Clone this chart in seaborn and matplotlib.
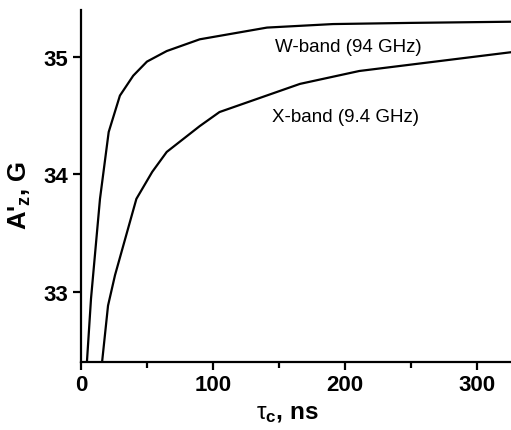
#!/usr/bin/env python
# A'z vs correlation time, W-band and X-band
import numpy as np
import pandas as pd
import seaborn as sns
import matplotlib.pyplot as plt
from matplotlib.ticker import MultipleLocator

# W-band (94 GHz)
w_tau = [4.5, 7.6, 14.4, 21, 29.5, 39.6, 50, 65, 90, 141, 191, 250, 326]
w_az = [32.40, 32.94, 33.79, 34.36, 34.67, 34.84, 34.96, 35.05, 35.15, 35.25, 35.28, 35.29, 35.30]

# X-band (9.4 GHz)
x_tau = [16, 20.5, 25.8, 42, 54, 65, 90, 105, 166, 211, 326]
x_az = [32.40, 32.88, 33.14, 33.79, 34.02, 34.19, 34.41, 34.53, 34.77, 34.88, 35.04]

labels = ["W-band (94 GHz)", "X-band (9.4 GHz)"]


def main():
    sns.set_style("ticks")
    plt.rcParams['font.family'] = ['Liberation Sans', 'DejaVu Sans']
    plt.rcParams['mathtext.fontset'] = 'custom'
    plt.rcParams['mathtext.rm'] = 'Liberation Sans'
    plt.rcParams['mathtext.bf'] = 'Liberation Sans:bold'
    plt.rcParams['mathtext.it'] = 'Liberation Sans:italic'
    plt.rcParams['text.color'] = 'black'
    plt.rcParams['axes.labelcolor'] = 'black'
    plt.rcParams['xtick.color'] = 'black'
    plt.rcParams['ytick.color'] = 'black'
    plt.rcParams['axes.edgecolor'] = 'black'

    fig = plt.figure(figsize=(5.11, 4.31), dpi=100)
    ax = fig.add_axes([0.1585, 0.158, 0.8415, 0.8165])

    sns.lineplot(x=w_tau, y=w_az, ax=ax, color='black', lw=1.6, sort=False, estimator=None)
    sns.lineplot(x=x_tau, y=x_az, ax=ax, color='black', lw=1.6, sort=False, estimator=None)

    ax.set_xlim(0, 326)
    ax.set_ylim(32.4, 35.4)
    ax.xaxis.set_major_locator(MultipleLocator(100))
    ax.xaxis.set_minor_locator(MultipleLocator(50))
    ax.yaxis.set_major_locator(MultipleLocator(1))

    ax.text(147, 35.085, labels[0], fontsize=13.5, va='center', ha='left')
    ax.text(144.7, 34.49, labels[1], fontsize=13.5, va='center', ha='left')

    sns.despine(ax=ax)
    for s in ['left', 'bottom']:
        ax.spines[s].set_linewidth(1.6)
    ax.tick_params(axis='both', which='major', direction='out', length=6, width=1.6,
                   labelsize=16, pad=3)
    ax.tick_params(axis='x', which='minor', direction='out', length=4, width=1.6)
    for lab in ax.get_xticklabels() + ax.get_yticklabels():
        lab.set_fontweight('bold')

    ax.set_xlabel(r"$\mathrm{\tau}_{\mathbf{c}}$, ns", fontsize=17.5, fontweight='bold', labelpad=4)
    ax.set_ylabel(r"A'$_{\mathbf{z}}$, G", fontsize=18.5, fontweight='bold', labelpad=8)
    ax.xaxis.label.set_x(0.48)
    ax.yaxis.label.set_y(0.475)

    fig.savefig('out.png', dpi=100)


if __name__ == "__main__":
    main()
